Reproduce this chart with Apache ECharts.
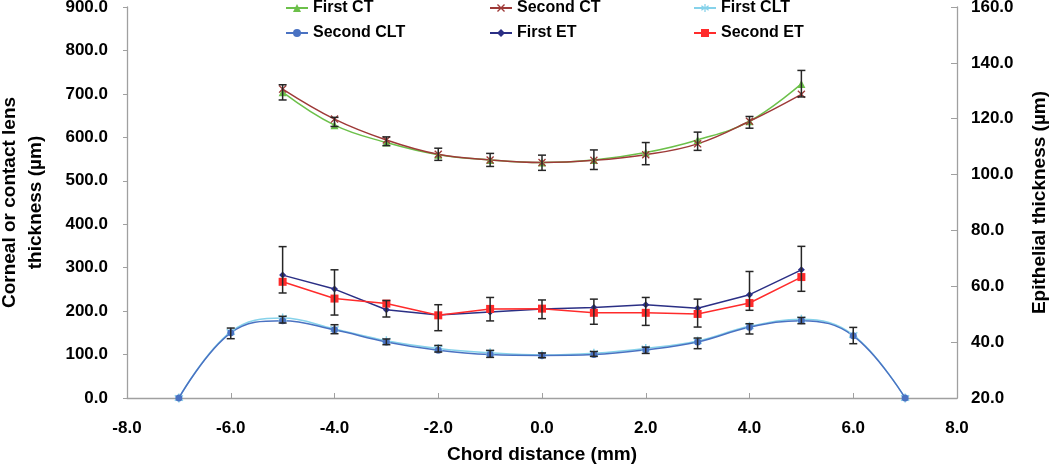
<!DOCTYPE html>
<html>
<head>
<meta charset="utf-8">
<script src="https://cdn.jsdelivr.net/npm/echarts@6/dist/echarts.min.js"></script>
<style>
html,body{margin:0;padding:0;background:#fff;}
#chart{width:1050px;height:464px;}
</style>
</head>
<body>
<div id="chart"></div>
<script>
// ---- Data ----
const chordCT = [-5, -4, -3, -2, -1, 0, 1, 2, 3, 4, 5];
const firstCT = [704, 628, 588, 560, 548, 542, 548, 565, 594, 637, 723];
const secondCT = [711, 642, 594, 561, 548, 542, 547, 560, 585, 637, 699];
const firstCTLow = [686, 625, 581, 547, 533, 524, 526, 537, 570, 621, 693];
const firstCTHigh = [721, 646, 601, 575, 563, 559, 571, 588, 612, 648, 754];

const chordET = [-5, -4, -3, -2, -1, 0, 1, 2, 3, 4, 5];
const firstET = [64.0, 59.0, 51.6, 49.7, 50.8, 51.9, 52.4, 53.4, 52.1, 57.0, 65.9];
const secondET = [61.6, 55.6, 53.8, 49.6, 51.9, 52.0, 50.5, 50.5, 50.1, 54.0, 63.3];
const etLow = [57.6, 49.7, 49.0, 44.1, 47.6, 48.4, 46.4, 46.0, 45.4, 51.4, 58.2];
const etHigh = [74.2, 65.9, 54.9, 53.4, 56.0, 55.1, 55.4, 56.0, 55.4, 65.3, 74.3];

const chordCLT = [-7, -6, -5, -4, -3, -2, -1, 0, 1, 2, 3, 4, 5, 6, 7];
const firstCLT = [0, 152, 184, 159, 132, 114, 104, 99, 103, 114, 131, 165, 181, 145, 0];
const secondCLT = [0, 150, 178, 157, 129, 110, 100, 98, 100, 111, 129, 163, 178, 143, 0];
const cltLow = [null, 136.5, 172.6, 148, 122.7, 105.8, 93.5, 92.7, 95.8, 102.6, 113.5, 147.3, 171, 125, null];
const cltHigh = [null, 161, 188, 168.7, 135.8, 121, 109.6, 103.6, 107, 117, 138, 171, 185.5, 162.5, null];

const xTicks = {min: -8, max: 8, interval: 2};
const leftTicks = {min: 0, max: 900, interval: 100};
const rightTicks = {min: 20, max: 160, interval: 20};

// ---- Build ----
const FONT = 'Liberation Sans, Arial, sans-serif';
const zip = (xs, ys) => xs.map((x, i) => [x, ys[i]]);
const zipBars = (xs, lo, hi) => xs.map((x, i) => [x, lo[i], hi[i]]).filter(d => d[1] != null);
const XMARK = 'path://M0,1.2 L1.2,0 L5,3.8 L8.8,0 L10,1.2 L6.2,5 L10,8.8 L8.8,10 L5,6.2 L1.2,10 L0,8.8 L3.8,5 Z';
const STAR = 'path://M4.3,0 L5.7,0 L5.7,3.3 L8.6,1.3 L9.4,2.5 L6.5,4.5 L9.4,6.5 L8.6,7.7 L5.7,5.7 L5.7,9 L4.3,9 L4.3,5.7 L1.4,7.7 L0.6,6.5 L3.5,4.5 L0.6,2.5 L1.4,1.3 L4.3,3.3 Z';

function errorBars(data, yIndex) {
  return {
    type: 'custom',
    yAxisIndex: yIndex,
    z: 10,
    silent: true,
    data: data,
    encode: {x: 0, y: [1, 2]},
    renderItem: function (params, api) {
      const x = api.value(0);
      const lo = api.coord([x, api.value(1)]);
      const hi = api.coord([x, api.value(2)]);
      const w = 4;
      const style = {stroke: '#262626', lineWidth: 1.5};
      return {
        type: 'group',
        children: [
          {type: 'line', shape: {x1: lo[0], y1: lo[1], x2: hi[0], y2: hi[1]}, style: style},
          {type: 'line', shape: {x1: hi[0] - w, y1: hi[1], x2: hi[0] + w, y2: hi[1]}, style: style},
          {type: 'line', shape: {x1: lo[0] - w, y1: lo[1], x2: lo[0] + w, y2: lo[1]}, style: style}
        ]
      };
    }
  };
}

function lineSeries(name, xs, ys, color, symbol, size, yIndex, smooth) {
  return {
    name: name, type: 'line', yAxisIndex: yIndex,
    data: zip(xs, ys), smooth: smooth,
    symbol: symbol, symbolSize: size, showSymbol: true,
    lineStyle: {color: color, width: 1.5},
    itemStyle: {color: color},
    emphasis: {disabled: true},
    z: 5
  };
}

const legendText = {fontFamily: FONT, fontWeight: 'bold', fontSize: 16, color: '#000'};
function legendCol(left, names) {
  return {
    orient: 'vertical', left: left, top: -5,
    itemWidth: 22, itemHeight: 10, itemGap: 9,
    data: names, textStyle: legendText, selectedMode: false
  };
}

const axisLabel = {fontFamily: FONT, fontWeight: 'bold', fontSize: 17, color: '#000'};
const nameStyle = {fontFamily: FONT, fontWeight: 'bold', fontSize: 19, color: '#000', lineHeight: 26};
const axisLine = {show: true, onZero: false, lineStyle: {color: '#a0a0a0', width: 1.3}};

const option = {
  backgroundColor: '#fff',
  animation: false,
  grid: {left: 127, right: 93, top: 7, bottom: 66, containLabel: false, outerBoundsMode: 'none'},
  legend: [
    legendCol(280, ['First CT', 'Second CLT']),
    legendCol(484, ['Second CT', 'First ET']),
    legendCol(688, ['First CLT', 'Second ET'])
  ],
  xAxis: {
    type: 'value', min: xTicks.min, max: xTicks.max, interval: xTicks.interval,
    axisLine: axisLine,
    axisTick: {show: true, inside: true, length: 5, lineStyle: {color: '#a0a0a0'}},
    splitLine: {show: false},
    axisLabel: Object.assign({margin: 22, formatter: v => v.toFixed(1)}, axisLabel),
    name: 'Chord distance (mm)', nameLocation: 'middle', nameGap: 44,
    nameTextStyle: nameStyle
  },
  yAxis: [
    {
      type: 'value', min: leftTicks.min, max: leftTicks.max, interval: leftTicks.interval,
      axisLine: axisLine,
      axisTick: {show: true, inside: false, length: 4, lineStyle: {color: '#a0a0a0'}},
      splitLine: {show: false},
      axisLabel: Object.assign({margin: 19, formatter: v => v.toFixed(1)}, axisLabel),
      name: 'Corneal or contact lens\nthickness (µm)', nameLocation: 'middle', nameGap: 78, nameRotate: 90,
      nameTextStyle: nameStyle
    },
    {
      type: 'value', position: 'right', min: rightTicks.min, max: rightTicks.max, interval: rightTicks.interval,
      axisLine: axisLine,
      axisTick: {show: true, inside: true, length: 6, lineStyle: {color: '#a0a0a0'}},
      splitLine: {show: false},
      axisLabel: Object.assign({margin: 14, formatter: v => v.toFixed(1)}, axisLabel),
      name: 'Epithelial thickness (µm)', nameLocation: 'middle', nameGap: 70, nameRotate: 90,
      nameTextStyle: nameStyle
    }
  ],
  series: [
    lineSeries('First CT', chordCT, firstCT, '#6cc04a', 'triangle', 8, 0, 0.4),
    lineSeries('Second CT', chordCT, secondCT, '#9e3a38', XMARK, 8, 0, 0.4),
    lineSeries('First CLT', chordCLT, firstCLT, '#86d2ea', STAR, 9, 0, 0.4),
    lineSeries('Second CLT', chordCLT, secondCLT, '#4a72c2', 'circle', 7, 0, 0.4),
    lineSeries('First ET', chordET, firstET, '#2b2f85', 'diamond', 7, 1, false),
    lineSeries('Second ET', chordET, secondET, '#ff2b2b', 'rect', 8, 1, false),
    errorBars(zipBars(chordCT, firstCTLow, firstCTHigh), 0),
    errorBars(zipBars(chordET, etLow, etHigh), 1),
    errorBars(zipBars(chordCLT, cltLow, cltHigh), 0)
  ]
};

const chart = echarts.init(document.getElementById('chart'), null, {renderer: 'canvas'});
chart.setOption(option);
</script>
</body>
</html>
